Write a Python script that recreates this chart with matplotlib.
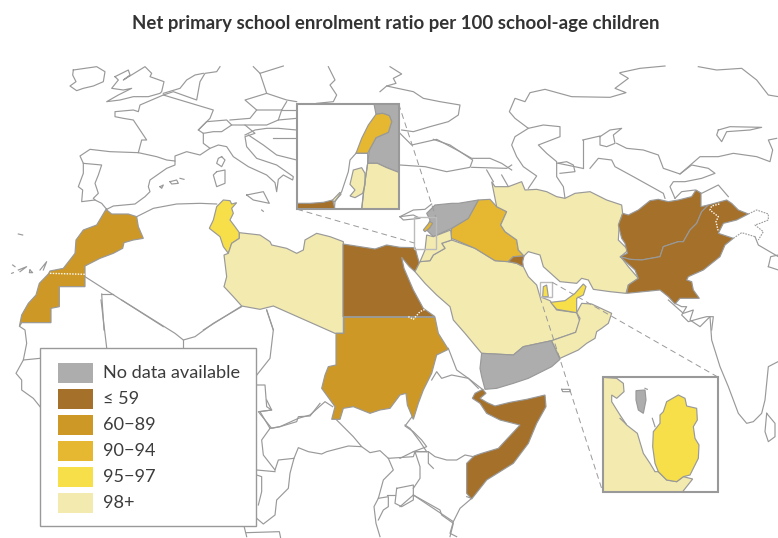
import matplotlib.pyplot as plt
from matplotlib.patches import Polygon, Rectangle

legend_labels = ['No data available', '≤ 59', '60−89', '90−94', '95−97', '98+']
legend_colors = ['#adadad', '#a4702a', '#ce9826', '#e6b831', '#f7df4a', '#f3eab0']
grey, brown, ochre, gold, yellow, cream = legend_colors
line_col = '#999999'

A = (0, 50)     # west
B = (380, 50)   # east
C = (0, 300)    # south west
D = (400, 300)  # south east
E = (290, 95)   # levant inset
F = (320, 310)  # sudan
G = (600, 190)  # pakistan
H = (220, 400)  # central africa
I = (60, 60)    # north west europe

morocco = [(318,478),(335,492),(385,492),(410,500),(415,530),(430,565),(400,570),(372,578),(368,595),(340,610),(300,625),(255,648),(255,710),(178,710),(178,770),(153,775),(153,818),(65,818),(58,830),(65,795),(85,760),(108,735),(118,700),(145,672),(150,663),(190,655),(225,610),(228,570),(250,540),(290,525)]
tunisia = [(650,470),(670,450),(690,452),(695,462),(710,458),(695,475),(700,490),(690,510),(705,530),(718,548),(718,565),(695,580),(685,610),(670,590),(660,560),(628,535),(640,510)]
libya = [(718,548),(718,565),(695,580),(685,610),(672,615),(680,680),(672,710),(700,740),(725,768),(780,778),(820,768),(1005,850),(1030,850),(1030,575),(990,560),(950,550),(915,570),(910,600),(890,610),(860,595),(815,585),(810,575),(780,555)]
egypt = [(-111,582),(-60,590),(-15,597),(20,585),(60,592),(105,593),(118,640),(105,665),(88,650),(65,622),(72,655),(100,720),(130,775),(165,800),(-111,800)]
sudan = [(72,22),(345,22),(355,70),(385,118),(350,135),(335,190),(310,240),(295,280),(280,328),(262,285),(258,250),(240,255),(210,295),(180,300),(150,310),(100,290),(70,295),(60,328),(35,328),(45,290),(5,235),(15,195),(25,170),(48,165),(48,70),(72,70)]
somalia = [(217,295),(225,280),(248,268),(258,280),(240,295),(262,308),(285,318),(330,307),(380,298),(435,285),(438,320),(410,370),(385,430),(340,490),(300,515),(260,540),(215,597),(200,580),(200,490),(222,468),(245,460),(295,445),(360,375),(300,360),(260,340),(240,310)]
yemen = [(245,160),(340,165),(370,140),(455,122),(480,178),(455,200),(385,235),(340,250),(290,265),(255,268),(245,230),(240,205)]
oman = [(530,38),(545,10),(575,12),(635,40),(625,70),(605,85),(590,95),(585,115),(560,130),(535,150),(480,175),(455,122),(527,97),(540,55)]
saudi = [(120,635),(150,632),(160,615),(195,595),(185,580),(215,570),(285,595),(345,632),(385,635),(410,640),(430,650),(445,680),(470,705),(480,740),(510,752),(530,780),(590,788),(600,815),(587,847),(515,872),(430,890),(400,915),(305,910),(255,850),(220,810),(210,770),(170,735),(135,700),(105,665)]
uae = [(512,757),(555,752),(585,730),(610,702),(618,710),(610,735),(590,745),(590,788),(530,778)]
iraq = [(215,535),(265,505),(295,450),(330,448),(350,470),(380,485),(362,525),(375,545),(410,570),(415,600),(432,618),(400,620),(385,635),(345,632),(285,595),(222,568),(212,565)]
kuwait = [(400,620),(432,618),(428,635),(430,650),(410,640),(385,635)]
syria = [(140,490),(165,465),(215,460),(235,460),(295,450),(265,505),(215,535),(160,560),(140,540),(150,510)]
lebanon = [(130,540),(150,515),(158,520),(148,535),(135,545)]
jordan = [(140,555),(160,560),(212,540),(215,570),(185,580),(195,595),(160,615),(150,632),(120,635),(135,600)]
iran = [(335,395),(345,410),(385,410),(425,395),(435,420),(470,418),(500,425),(530,440),(555,445),(585,430),(630,425),(680,450),(725,465),(728,490),(718,520),(715,570),(745,600),(722,620),(745,650),(775,685),(745,705),(738,730),(690,725),(640,718),(625,690),(605,685),(590,700),(540,695),(490,650),(480,615),(445,605),(432,618),(415,600),(410,570),(375,545),(362,525),(380,485),(350,470),(345,445)]
afghanistan = [(60,200),(82,190),(75,160),(65,145),(55,105),(68,70),(85,75),(115,60),(150,32),(175,28),(205,35),(235,30),(275,20),(288,0),(303,10),(303,50),(325,45),(305,65),(290,100),(270,120),(250,155),(235,155),(190,170),(180,200),(125,210),(90,208)]
pakistan = [(60,200),(90,208),(125,210),(180,200),(190,170),(235,155),(250,155),(270,120),(290,100),(305,65),(325,45),(380,30),(395,40),(415,60),(445,72),(410,90),(370,100),(355,130),(400,145),(375,165),(360,200),(310,240),(265,260),(260,270),(275,275),(280,300),(298,325),(240,325),(225,342),(205,320),(180,300),(80,310),(85,285),(115,265),(105,240)]
qatar_small = [(488,740),(490,710),(500,705),(505,740)]

west_lines = [
    [(320,478),(305,460),(285,450),(245,455),(248,420),(235,410),(250,370),(250,340),(240,318),(270,298),(330,305),(415,308),(470,320),(500,330),(525,333),(525,345),(500,355),(450,390),(445,410),(450,425),(435,440),(405,462),(340,468),(320,478)],
    [(250,340),(305,345),(295,375),(285,400),(295,430),(280,445),(285,450)],
    [(415,308),(425,270),(440,270),(420,240),(400,210),(370,205),(345,200),(345,185),(400,180),(415,185),(420,165),(490,135),(640,180),(630,205),(595,240),(610,250),(610,280),(630,295),(600,315),(560,305),(525,318),(525,333)],
    [(595,240),(620,215),(680,210),(695,225),(665,245),(640,245),(610,250)],
    [(695,225),(735,225),(765,250),(735,260),(740,290),(770,325),(830,345),(880,380),(878,390),(850,375),(835,388),(830,425),(825,398),(800,375),(745,350),(700,320),(680,290),(655,285),(630,295)],
    [(490,135),(520,125),(590,150),(600,95),(615,70),(650,65),(660,50)],
    [(690,210),(750,205),(770,180),(735,150),(800,130),(780,70),(760,50)],
    [(780,70),(850,48)],[(985,50),(1005,90),(990,105),(1010,135),(1000,155),(950,160)],
    [(800,130),(860,150),(890,155)],[(860,155),(845,180),(770,180)],[(845,180),(890,180)],
    [(845,180),(835,210),(800,225),(735,225)],[(835,210),(890,205)],
    [(735,255),(765,240),(800,235),(835,235),(890,240)],[(745,255),(790,285),(830,315),(890,330)],[(820,265),(890,265)],
    [(490,130),(540,115),(560,90),(585,75),(610,70)],
    [(665,320),(675,330),(665,350),(650,340),(655,325),(665,320)],
    [(650,365),(675,360),(675,400),(650,410),(640,375),(650,365)],
    [(740,435),(790,425),(808,460),(760,450),(740,435)],
    [(510,395),(530,390),(535,400),(515,402),(510,395)],[(480,410),(490,405),(485,415),(480,410)],[(540,385),(552,388)],
    [(38,645),(45,650)],[(35,670),(40,668)],[(55,660),(80,650),(60,665)],[(90,660),(98,668),(88,668),(90,660)],[(120,660),(140,635),(130,660)],[(55,552),(68,555)],[(785,480),(790,484)],
    [(410,500),(460,475),(530,462),(600,460),(650,462)],
    [(255,680),(490,830)],[(305,732),(340,732)],[(305,732),(312,840)],[(725,768),(610,840)],[(800,780),(820,840)],
]
north_lines = [
    [(40,30),(75,25),(110,20),(135,35),(130,65),(100,78),(70,85),(50,92),(30,78),(48,65),(38,45),(40,30)],
    [(165,50),(205,30),(210,45),(190,60),(255,20),(275,40),(270,50),(312,65),(305,95),(300,100),(265,110),(220,110),(180,120),(140,125),(175,105),(215,85),(190,90),(155,85),(175,60),(165,50)],
]
south_lines = [
    [(365,0),(525,100),(550,120),(585,110),(640,70),(725,20)],[(550,120),(550,143)],
    [(303,0),(320,143)],[(800,30),(820,90),(810,175),(768,228)],
    [(60,80),(75,90),(80,130),(70,180),(120,175)],[(70,180),(48,220),(65,240),(65,270),(100,295),(120,320)],
    [(768,255),(795,255),(800,320),(815,330),(775,335),(815,385),(840,380),(895,355),(930,345),(975,305),(998,320)],
]
africa_lines = [
    [(140,0),(155,30),(120,35),(150,85),(125,120),(130,165),(165,210)],
    [(150,85),(180,80),(230,65),(235,50),(270,48),(300,10)],
    [(350,60),(375,85),(400,110),(425,140),(385,138),(320,155),(305,162),(265,155),(235,143),(222,175),(175,180),(165,210)],
    [(222,175),(210,220),(205,265),(170,300),(165,345),(130,372),(110,355)],
    [(110,210),(165,215)],[(110,225),(125,230),(125,275),(115,315)],
    [(425,140),(450,158),(480,152),(505,175),(580,170),(585,155),(620,155)],
    [(555,75),(570,85),(600,125),(620,155)],[(585,155),(600,200),(600,235),(580,265)],
    [(505,175),(520,210),(490,240),(475,295),(462,320),(468,370),(480,410)],
    [(500,285),(525,285)],[(530,265),(580,255),(580,300),(545,320),(525,310),(530,265)],
    [(580,285),(660,330),(665,345),(700,370),(690,410)],
    [(475,295),(505,290),(505,320),(490,330),(475,360)],
    [(72,378),(80,410)],[(80,398),(178,395),(182,414)],
]
horn_lines = [
    [(40,325),(40,345),(15,378),(40,395),(65,420),(80,440),(40,455),(0,475)],
    [(95,240),(110,215),(125,235),(155,225),(205,235),(235,265)],[(145,145),(170,210),(205,235),(250,270)],
    [(40,455),(85,455),(105,470),(140,480),(170,480),(195,465),(220,470)],
    [(200,590),(215,595),(180,625),(160,665),(40,585),(0,620)],[(85,455),(85,490),(100,505)],[(160,665),(150,700),(170,710)],
    [(805,0),(850,40),(880,30),(870,60),(900,80),(930,50),(935,120),(960,200),(985,260),(1015,340),(1040,370),(1060,365),(1085,340),(1095,300),(1100,250),(1105,200),(1134,185)],
    [(1100,340),(1125,370),(1125,410),(1105,425),(1095,395),(1100,340)],
    [(485,268),(510,268),(510,275),(488,275),(485,268)],
]
asia_lines = [
    [(30,50),(65,72),(40,85),(48,100),(20,108),(0,125)],
    [(20,108),(100,125),(130,145),(180,155),(240,165),(235,195),(205,215),(150,230),(100,245),(65,240)],
    [(60,345),(135,350),(200,365),(270,352),(278,330),(240,305),(170,268),(95,285),(60,250)],
    [(275,352),(380,355),(395,345)],[(160,268),(210,285),(240,305),(275,325),(330,325),(365,340),(395,360)],
    [(60,500),(100,480),(135,478),(155,462)],[(320,360),(340,395)],[(365,375),(385,410)],
    [(720,70),(745,85),(705,115),(738,128),(690,142),(575,140),(495,118),(450,128),(435,155),(405,145),(388,185),(405,205),(445,235),(490,225),(540,230),(540,260),(475,285),(500,310),(530,335),(530,380),(550,410),(555,445)],
    [(445,235),(405,260),(395,285),(410,320),(430,350),(470,378),(445,415)],
    [(660,260),(690,240),(725,235),(700,255),(705,280),(680,290),(660,285),(660,260)],
    [(608,270),(660,258)],[(608,270),(608,355)],[(608,355),(560,345),(535,340)],[(530,340),(560,335),(580,345),(585,365),(540,370)],
    [(630,355),(655,325),(695,330),(705,350),(760,380),(850,430),(855,445)],
    [(710,280),(740,295),(790,300),(835,315),(850,355),(900,372),(960,320),(1015,320),(1060,310),(1130,320),(1170,335),(1178,300),(1165,270),(1190,265)],
    [(900,372),(935,345),(985,355),(1005,370),(965,385),(915,395),(880,395),(870,410),(885,445)],
    [(885,445),(905,425),(945,420),(965,430),(1015,405),(1045,440)],
    [(1015,240),(1050,230),(1145,232),(1110,240),(1040,245),(1025,275),(1010,255),(1015,240)],
    [(955,50),(1010,60),(1085,55),(1130,90),(1165,135),(1195,140)],[(720,68),(780,55),(855,48)],
    [(885,760),(905,770),(920,770),(905,795),(925,815),(960,805),(980,800),(1000,800),(995,840)],
    [(1125,560),(1135,585),(1195,620)],[(1165,650),(1195,660)],[(1165,650),(1172,620),(1195,615)],
    [(60,500),(100,495),(120,505),(70,510),(60,500)],
]
kashmir_grey = [(445,72),(470,60),(505,72),(505,90),(480,100),(465,105),(490,125),(475,150)]
kashmir_grey2 = [(400,145),(425,128),(465,140)]
kashmir_white = [(358,42),(335,48),(330,60),(355,80),(348,95),(355,125)]
sahara_dots = [(150,670),(255,673)]
sudan_dots = [(85,800),(100,808),(120,785),(135,778)]

levant_syria = [(252,27),(326,27),(326,232),(290,218),(262,205),(233,205),(238,165),(258,128),(295,112),(305,80),(298,62),(278,55),(258,58)]
levant_lebanon = [(258,58),(278,55),(298,62),(305,80),(295,112),(258,128),(238,165),(233,175),(198,175),(215,130),(235,90)]
levant_jordan = [(233,205),(262,205),(290,218),(326,232),(326,343),(215,343),(222,280)]
levant_westbank = [(190,225),(215,218),(225,235),(225,270),(218,295),(195,308),(180,303),(195,285),(180,268)]
levant_gaza = [(125,318),(150,292),(153,298),(133,320)]
levant_egypt = [(22,343),(22,325),(60,325),(100,322),(128,315),(135,343)]
levant_israel = [(198,175),(180,195),(175,230),(155,290),(135,320),(133,343)]
levant_israel2 = [(198,175),(233,175),(233,205),(222,280),(215,343)]

qatar_saudi = [(608,232),(650,235),(670,250),(672,275),(650,295),(635,285),(635,305),(660,345),(680,375),(712,400),(730,460),(750,490),(765,515),(775,515),(800,540),(830,545),(850,530),(878,537),(848,575),(608,575)]
qatar_big = [(800,305),(835,285),(855,295),(860,318),(890,325),(892,360),(880,380),(885,415),(897,435),(895,475),(870,525),(850,530),(830,545),(800,540),(775,515),(765,490),(758,440),(760,395),(780,370),(780,345),(790,335)]
bahrain = [(708,272),(735,270),(738,300),(730,340),(715,330),(708,300)]
qatar_bits = [[(660,355),(678,372)],[(757,355),(765,380)],[(735,265),(742,268)]]


def px(points, origin):
    return [(origin[0] + x / 3, origin[1] + y / 3) for x, y in points]


def fill(points, origin, color, z=2, lw=0.85):
    ax.add_patch(Polygon(px(points, origin), closed=True, facecolor=color, edgecolor=line_col, lw=lw, zorder=z))


def lines(groups, origin, z=1):
    for g in groups:
        xy = px(g, origin)
        ax.plot([p[0] for p in xy], [p[1] for p in xy], color=line_col, lw=0.85, zorder=z, solid_joinstyle='round')


def dashed(points, origin, color, ls, z=3, lw=0.8):
    xy = px(points, origin)
    ax.plot([p[0] for p in xy], [p[1] for p in xy], color=color, lw=lw, ls=ls, zorder=z)


plt.rcParams['font.family'] = ['Lato', 'DejaVu Sans']

fig = plt.figure(figsize=(7.78, 5.38), dpi=100)
ax = fig.add_axes([0, 0, 1, 1])
ax.set_xlim(0, 778)
ax.set_ylim(538, 0)
ax.axis('off')

lines(west_lines, A)
lines(north_lines, I)
lines(south_lines, C)
lines(africa_lines, H)
lines(horn_lines, D)
lines(asia_lines, B)
dashed(kashmir_grey, G, line_col, (0, (1.5, 1)))
dashed(kashmir_grey2, G, line_col, (0, (1.5, 1)))

fill(morocco, A, ochre)
fill(tunisia, A, yellow)
fill(libya, A, cream)
fill(egypt, B, brown)
fill(sudan, F, ochre)
fill(somalia, D, brown)
fill(saudi, B, cream)
fill(yemen, D, grey)
fill(oman, D, cream)
fill(uae, B, yellow)
fill(iraq, B, gold)
fill(kuwait, B, brown)
fill(syria, B, grey)
fill(jordan, B, cream)
fill(lebanon, B, gold)
fill(iran, B, cream)
fill(afghanistan, G, brown)
fill(pakistan, G, brown)
fill(qatar_small, B, yellow)

dashed(sahara_dots, A, 'white', (0, (1, 1)), z=4, lw=1)
dashed(sudan_dots, B, 'white', (0, (1, 1)), z=4, lw=1)
dashed(kashmir_white, G, 'white', (0, (1, 1)), z=4, lw=1)

# little boxes on the map and the guide lines to the insets
ax.add_patch(Rectangle((414.3, 216.7), 21.4, 32.6, fill=False, ec='#bbbbbb', lw=1, zorder=5))
ax.add_patch(Rectangle((540, 282.3), 12.3, 15, fill=False, ec='#bbbbbb', lw=1, zorder=5))
ax.plot([398.7, 435.7], [104, 216.7], color=line_col, lw=0.7, ls=(0, (6, 4)), zorder=5)
ax.plot([297.3, 414.3], [209.3, 243], color=line_col, lw=0.7, ls=(0, (6, 4)), zorder=5)
ax.plot([552.3, 718.3], [282.3, 377.3], color=line_col, lw=0.7, ls=(0, (6, 4)), zorder=5)
ax.plot([540, 602.7], [297.3, 491.7], color=line_col, lw=0.7, ls=(0, (6, 4)), zorder=5)

# levant inset
ax.add_patch(Rectangle((297.3, 104), 101.4, 105.3, fc='white', ec='none', zorder=6))
fill(levant_syria, E, grey, z=7)
fill(levant_jordan, E, cream, z=7)
fill(levant_lebanon, E, gold, z=7)
fill(levant_westbank, E, cream, z=7)
fill(levant_gaza, E, cream, z=7)
fill(levant_egypt, E, brown, z=7)
lines([levant_israel, levant_israel2], E, z=7)
ax.add_patch(Rectangle((297.3, 104), 101.4, 105.3, fill=False, ec=line_col, lw=1.5, zorder=8))

# qatar inset
ax.add_patch(Rectangle((602.7, 377.3), 115.6, 114.4, fc='white', ec='none', zorder=6))
fill(qatar_saudi, D, cream, z=7)
fill(qatar_big, D, yellow, z=7)
fill(bahrain, D, grey, z=7)
lines(qatar_bits, D, z=7)
ax.add_patch(Rectangle((602.7, 377.3), 115.6, 114.4, fill=False, ec=line_col, lw=1.5, zorder=8))

# legend
ax.add_patch(Rectangle((40.3, 347.7), 215.4, 178, fc='white', ec=line_col, lw=1, zorder=9))
for i, (lab, col) in enumerate(zip(legend_labels, legend_colors)):
    y = 363 + i * 26
    ax.add_patch(Rectangle((58, y), 35, 19.7, fc=col, ec='none', zorder=10))
    ax.text(103.5, y + 10.5, lab, fontsize=13.1, color='#3c3c3c', va='center', ha='left', zorder=10)

ax.text(395.5, 24, 'Net primary school enrolment ratio per 100 school-age children',
        fontsize=13.4, color='#333333', ha='center', va='center', fontweight='bold')

fig.savefig('out.png', dpi=100)
